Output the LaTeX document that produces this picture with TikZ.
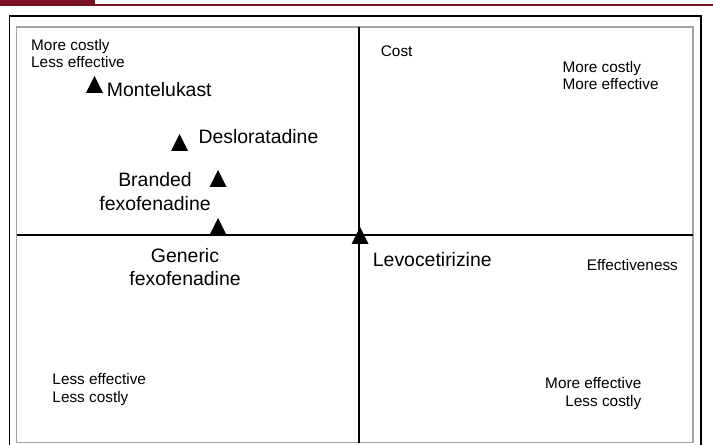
\documentclass[tikz,border=0pt]{standalone}
\usepackage{fontspec}
\setmainfont{Liberation Sans}
\definecolor{barred}{HTML}{7A1222}
\definecolor{framegray}{HTML}{A3A3A3}
\tikzset{
  small/.style={font=\fontsize{15.4}{17.6}\selectfont, inner sep=0pt, align=left},
  large/.style={font=\fontsize{19.5}{23.5}\selectfont, inner sep=0pt},
  axis/.style={draw=black, line width=1.3bp},
  outerframe/.style={draw=black, line width=1.4bp},
  innerframe/.style={draw=framegray, line width=1.6bp},
  tri/.pic={\fill[black] (0,0) -- (-8.5,17) -- (8.5,17) -- cycle;}
}
\begin{document}
\begin{tikzpicture}[x=1bp, y=-1bp]
\useasboundingbox (0,0) rectangle (713,445);
% top bar
\fill[barred] (0,0) rectangle (95,5.6);
\draw[barred, line width=1.7bp] (0,5.3) -- (713,5.3);
% frames
\coordinate (obl) at (9.3,446);
\coordinate (otl) at (9.3,16);
\coordinate (otr) at (701,16);
\coordinate (obr) at (701,446);
\draw[outerframe] (obl) -- (otl) -- (otr) -- (obr);
\coordinate (itl) at (16.5,27);
\coordinate (ibr) at (693,442.5);
\draw[innerframe] (itl) rectangle (ibr);
% axes
\coordinate (xl) at (16.5,235);
\coordinate (xr) at (693,235);
\coordinate (yt) at (359,27);
\coordinate (yb) at (359,442.5);
\draw[axis] (xl) -- (xr);
\draw[axis] (yt) -- (yb);
% markers (origin at apex)
\pic (mMont) at (94.5,76) {tri};
\pic (mDes) at (179.5,134) {tri};
\pic (mBr) at (218,170) {tri};
\pic (mGen) at (218,218) {tri};
\pic (mLev) at (360,227) {tri};
% quadrant labels
\node[small, anchor=north west] (tl) at (31,39) {More costly\\Less effective};
\node[small, anchor=north west] (cost) at (380.7,45.7) {Cost};
\node[small, anchor=north west] (tr) at (562.3,60.7) {More costly\\More effective};
\node[small, anchor=north west] (eff) at (586.7,259) {Effectiveness};
\node[small, anchor=north west] (bl) at (52.3,373.3) {Less effective\\Less costly};
\node[small, anchor=north east, align=right] (br) at (641.5,377.3) {More effective\\Less costly};
% drug labels
\node[large, anchor=north west] (lMont) at (106.7,82) {Montelukast};
\node[large, anchor=north west] (lDes) at (198.3,129.3) {Desloratadine};
\node[large, anchor=north, align=center] (lBr) at (155,172.7) {Branded\\fexofenadine};
\node[large, anchor=north, align=center] (lGen) at (185,248) {Generic\\fexofenadine};
\node[large, anchor=north west] (lLev) at (372.7,252.7) {Levocetirizine};
\end{tikzpicture}
\end{document}
